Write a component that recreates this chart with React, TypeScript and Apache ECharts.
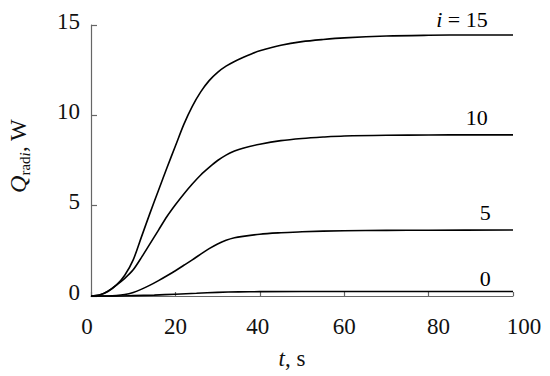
import React, { useEffect, useRef } from "react";
import * as echarts from "echarts";

const tI15 = [0, 2, 4, 6, 8, 10, 12, 14, 16, 18, 20, 22, 24, 26, 28, 30, 32, 34, 36, 38, 40, 45, 50, 55, 60, 70, 80, 90, 100];
const qI15 = [0, 0.05, 0.25, 0.6, 1.15, 2.0, 3.3, 4.6, 5.85, 7.1, 8.3, 9.5, 10.5, 11.3, 11.92, 12.38, 12.72, 12.98, 13.2, 13.4, 13.57, 13.88, 14.08, 14.2, 14.29, 14.39, 14.43, 14.45, 14.45];

const tI10 = [0, 2, 4, 6, 8, 10, 12, 14, 16, 18, 20, 22, 24, 26, 28, 30, 32, 34, 36, 40, 45, 50, 55, 60, 70, 80, 90, 100];
const qI10 = [0, 0.05, 0.27, 0.6, 0.98, 1.45, 2.15, 2.9, 3.65, 4.4, 5.05, 5.65, 6.2, 6.7, 7.12, 7.5, 7.8, 8.02, 8.18, 8.4, 8.6, 8.72, 8.8, 8.86, 8.9, 8.91, 8.92, 8.92];

const tI5 = [0, 4, 6, 8, 10, 12, 14, 16, 18, 20, 22, 24, 26, 28, 30, 32, 34, 36, 40, 45, 50, 60, 70, 80, 100];
const qI5 = [0, 0, 0.02, 0.08, 0.2, 0.38, 0.6, 0.85, 1.12, 1.4, 1.7, 2.0, 2.32, 2.62, 2.88, 3.08, 3.22, 3.3, 3.42, 3.5, 3.56, 3.61, 3.63, 3.64, 3.65];

const tI0 = [0, 5, 10, 15, 20, 25, 30, 35, 40, 60, 100];
const qI0 = [0, 0, 0.02, 0.05, 0.1, 0.15, 0.2, 0.23, 0.24, 0.25, 0.25];

const xTicks = [0, 20, 40, 60, 80, 100];
const yTicks = [0, 5, 10, 15];

const curveLabels = ["{it|i} = 15", "10", "5", "0"];
const labelAt: [number, number][] = [
  [94, 15],
  [94, 9.9],
  [94.7, 4.6],
  [94.7, 0.95],
];
const labelShift = [-6, 0, 0, 0];

// horizontal nudges of x tick labels as placed in the original figure
const xLabelNudge: Record<number, number> = { 0: -4, 40: -2, 80: 10, 100: 11 };

const FONT = "Liberation Serif";

function pairs(t: number[], q: number[]) {
  return t.map((v, i) => [v, q[i]]);
}

export default function App() {
  const ref = useRef<HTMLDivElement>(null);
  useEffect(() => {
    if (!ref.current) return;
    const chart = echarts.init(ref.current, undefined, { renderer: "svg" });
    const datasets = [pairs(tI15, qI15), pairs(tI10, qI10), pairs(tI5, qI5), pairs(tI0, qI0)];
    const series = datasets.map((d, k) => ({
      type: "line",
      data: d,
      smooth: 0.3,
      showSymbol: false,
      symbol: "none",
      clip: false,
      lineStyle: { color: "#000", width: 1.6 },
      markPoint: {
        symbol: "circle",
        symbolSize: 0,
        data: [
          {
            coord: labelAt[k],
            label: {
              show: true,
              position: "inside",
              offset: [0, labelShift[k]],
              align: "right",
              verticalAlign: "middle",
              formatter: curveLabels[k],
              color: "#000",
              fontFamily: FONT,
              fontSize: 22,
              rich: {
                it: { fontStyle: "italic", fontFamily: FONT, fontSize: 22, color: "#000" },
              },
            },
          },
        ],
      },
    }));
    const xRich: Record<string, any> = {};
    xTicks.forEach((v) => {
      const s = xLabelNudge[v] || 0;
      xRich["x" + v] = {
        fontFamily: FONT,
        fontSize: 23,
        color: "#111",
        padding: s >= 0 ? [0, 0, 0, 2 * s] : [0, -2 * s, 0, 0],
      };
    });
    chart.setOption({
      animation: false,
      grid: { left: 91, right: 37, top: 25, bottom: 80 },
      xAxis: {
        type: "value",
        min: 0,
        max: 100,
        interval: 20,
        axisLine: { lineStyle: { color: "#666", width: 1.2 } },
        axisTick: { inside: true, length: 4, lineStyle: { color: "#666", width: 1.2 } },
        splitLine: { show: false },
        axisLabel: {
          margin: 19,
          color: "#111",
          fontFamily: FONT,
          fontSize: 23,
          rich: xRich,
          formatter: (v: number) => (xTicks.includes(v) ? `{x${v}|${v}}` : ""),
        },
      },
      yAxis: {
        type: "value",
        min: 0,
        max: 15,
        interval: 5,
        axisLine: { show: true, lineStyle: { color: "#666", width: 1.2 } },
        axisTick: { show: true, inside: true, length: 6, lineStyle: { color: "#666", width: 1.2 } },
        splitLine: { show: false },
        axisLabel: {
          margin: 11,
          color: "#111",
          fontFamily: FONT,
          fontSize: 23,
          lineHeight: 8,
          formatter: (v: number) => (yTicks.includes(v) ? `${v}\n ` : ""),
        },
      },
      graphic: [
        {
          type: "text",
          x: 18,
          y: 156,
          rotation: Math.PI / 2,
          style: {
            text: "{q|Q}{s|rad}{si|i}{n|, W}",
            fill: "#111",
            align: "center",
            verticalAlign: "middle",
            rich: {
              q: { fontStyle: "italic", fontFamily: FONT, fontSize: 24, lineHeight: 28, verticalAlign: "middle" },
              s: { fontFamily: FONT, fontSize: 15, lineHeight: 15, verticalAlign: "bottom" },
              si: { fontStyle: "italic", fontFamily: FONT, fontSize: 15, lineHeight: 15, verticalAlign: "bottom" },
              n: { fontFamily: FONT, fontSize: 23, lineHeight: 28, verticalAlign: "middle" },
            },
          },
        },
        {
          type: "text",
          x: 292,
          y: 358,
          style: {
            text: "{t|t}{n|, s}",
            fill: "#111",
            align: "center",
            verticalAlign: "middle",
            rich: {
              t: { fontStyle: "italic", fontFamily: FONT, fontSize: 23 },
              n: { fontFamily: FONT, fontSize: 23 },
            },
          },
        },
      ],
      series,
    });
    return () => chart.dispose();
  }, []);
  return <div ref={ref} style={{ width: 550, height: 376, position: "absolute", left: 0, top: 0 }} />;
}
